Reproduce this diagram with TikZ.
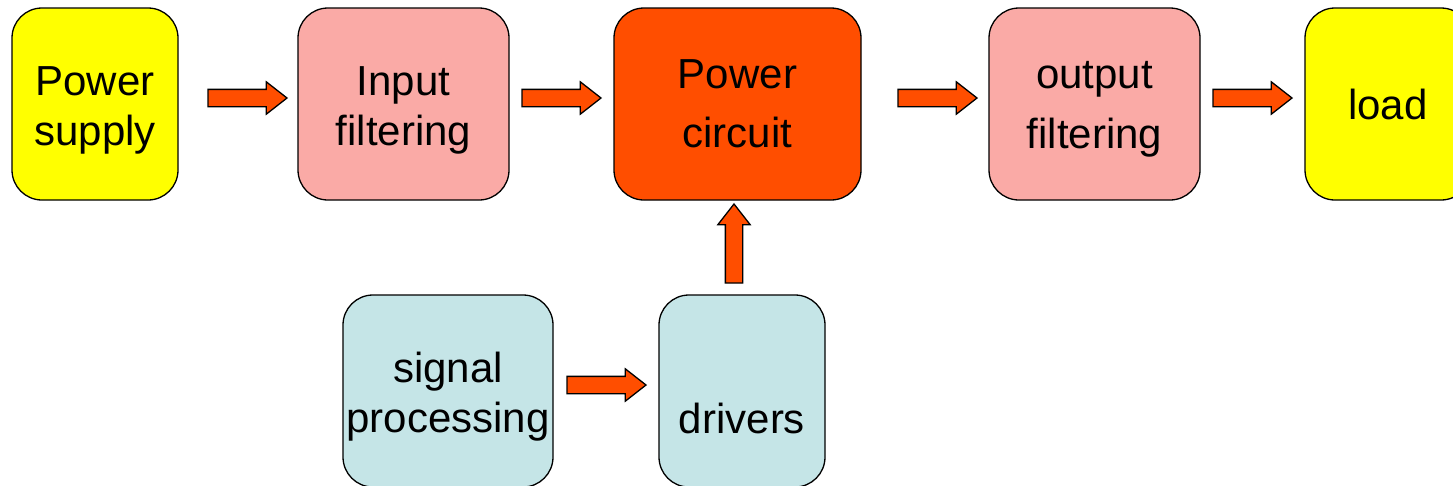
\documentclass[tikz,border=0pt]{standalone}
\usepackage{fontspec}
\setmainfont{Liberation Sans}
\usetikzlibrary{positioning, shapes.arrows}

\definecolor{supplyyellow}{RGB}{255,255,0}
\definecolor{filterpink}{RGB}{250,170,166}
\definecolor{powerorange}{RGB}{255,78,0}
\definecolor{signalblue}{RGB}{197,229,231}

% invisible strut that pushes the first line down
\newcommand{\padline}[1]{\rule{0pt}{#1}}

\begin{document}
\begin{tikzpicture}[
    x=1pt, y=-1pt,
    block/.style={rectangle, draw, line width=1.3pt, rounded corners=30pt, align=center,
        minimum height=192pt, inner sep=0pt, outer sep=0pt, font=\fontsize{42}{50}\selectfont},
    widelines/.style={font=\fontsize{42}{59.5}\selectfont},
    source/.style={block, fill=supplyyellow, minimum width=166pt},
    filter/.style={block, fill=filterpink, minimum width=211pt},
    stage/.style={block, fill=powerorange, minimum width=247pt},
    control/.style={block, fill=signalblue},
    flow/.style={single arrow, draw, line width=1.3pt, fill=powerorange,
        minimum height=79pt, minimum width=31pt, inner sep=8pt, outer sep=0pt,
        single arrow head extend=7.5pt, single arrow tip angle=76}
]
\useasboundingbox (0,0) rectangle (1453,485);
\clip (0,0) rectangle (1453,485);

% Main power path
\node[source] (supply) at (95,104) {\padline{41pt}Power\\supply};
\node[filter, right=120pt of supply] (infilt) {\padline{41pt}Input\\filtering};
\node[stage, widelines, right=105pt of infilt] (power) {Power\\circuit};
\node[filter, widelines, right=128pt of power] (outfilt) {\padline{38pt}output\\filtering};
\node[source, right=105pt of outfilt] (load) {load};

% Control path
\node[control, minimum width=210pt] (signal) at (448,391) {\padline{41pt}signal\\processing};
\node[control, minimum width=166pt] (drivers) at (742,391) {\strut\\drivers};

% Block arrows
\node[flow, left=11pt of infilt, yshift=6pt] (supplyarrow) {};
\node[flow, left=13pt of power, yshift=6pt] (filterarrow) {};
\node[flow, left=12pt of outfilt, yshift=6pt] (circuitarrow) {};
\node[flow, left=13pt of load, yshift=6pt] (loadarrow) {};
\node[flow, left=13pt of drivers, yshift=6pt] (signalarrow) {};
\node[flow, shape border rotate=90, below=4pt of power, xshift=-3.5pt] (driverarrow) {};

\end{tikzpicture}
\end{document}
